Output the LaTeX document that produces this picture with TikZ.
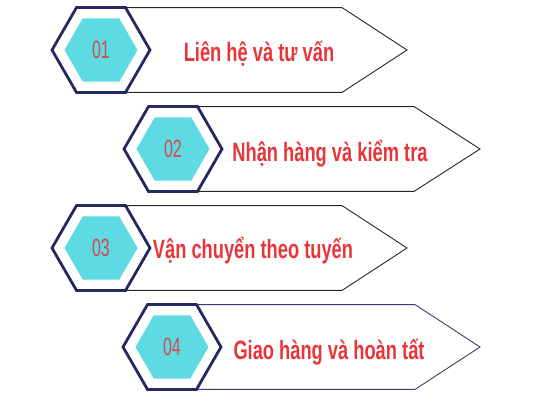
\documentclass[tikz,border=0pt]{standalone}
\usepackage{fontspec}
\setmainfont{Liberation Sans}
\newfontfamily\stepfont[FakeStretch=0.69]{Liberation Sans}
\newfontfamily\numfont[FakeStretch=0.64]{Liberation Sans}
\usetikzlibrary{shapes.geometric,positioning}

\definecolor{hexnavy}{HTML}{262862}
\definecolor{hexcyan}{HTML}{5DDAE2}
\definecolor{numred}{HTML}{D24B4E}
\definecolor{labelred}{HTML}{E8353A}
\definecolor{edgenavy}{HTML}{3A3D6B}

\begin{document}
\begin{tikzpicture}[x=1pt,y=-1pt,
    hexouter/.style={draw=hexnavy, line width=2.8pt, fill=white,
        regular polygon, regular polygon sides=6,
        minimum size=98pt, inner sep=0pt, outer sep=0pt},
    hexinner/.style={fill=hexcyan,
        regular polygon, regular polygon sides=6,
        minimum size=73pt, inner sep=0pt, text=numred,
        font=\numfont\fontsize{25}{25}\selectfont},
    steptext/.style={text=labelred, anchor=base,
        font=\stepfont\bfseries\fontsize{26.5}{26.5}\selectfont},
    arrowbody/.style={draw=black!85, line width=0.9pt, line join=miter}]

\useasboundingbox (0,0) rectangle (533,400);

% Step 1
\node[hexouter] (h1) at (101,50) {};
\node[hexinner] (n1) at (h1) {01};
\coordinate (s1) at (342,50);
\coordinate (t1) at (407,50);
\draw[arrowbody] (h1.60) -- (h1.60 -| s1) -- (t1) -- (h1.300 -| s1) -- (h1.300);
\node[steptext] (l1) at (259,61) {Liên hệ và tư vấn};

% Step 2
\node[hexouter] (h2) at (173,149) {};
\node[hexinner] (n2) at (h2) {02};
\coordinate (s2) at (414,149);
\coordinate (t2) at (480,149);
\draw[arrowbody] (h2.60) -- (h2.60 -| s2) -- (t2) -- (h2.300 -| s2) -- (h2.300);
\node[steptext] (l2) at (330,161) {Nhận hàng và kiểm tra};

% Step 3
\node[hexouter] (h3) at (101,248) {};
\node[hexinner] (n3) at (h3) {03};
\coordinate (s3) at (342,248);
\coordinate (t3) at (407,248);
\draw[arrowbody] (h3.60) -- (h3.60 -| s3) -- (t3) -- (h3.300 -| s3) -- (h3.300);
\node[steptext] (l3) at (253,258) {Vận chuyển theo tuyến};

% Step 4
\node[hexouter] (h4) at (172,347) {};
\node[hexinner] (n4) at (h4) {04};
\coordinate (s4) at (415,347);
\coordinate (t4) at (480,347);
\draw[arrowbody, draw=edgenavy] (h4.60) -- (h4.60 -| s4) -- (t4) -- (h4.300 -| s4) -- (h4.300);
\node[steptext] (l4) at (329,359) {Giao hàng và hoàn tất};

\end{tikzpicture}
\end{document}
